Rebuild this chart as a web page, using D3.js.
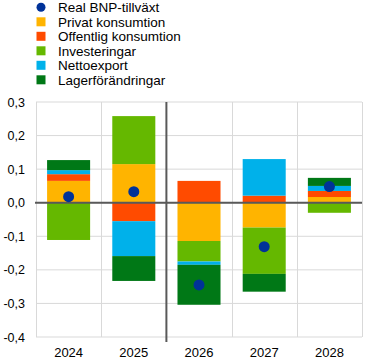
<!DOCTYPE html>
<html>
<head>
<meta charset="utf-8">
<script src="https://cdn.jsdelivr.net/npm/d3@7"></script>
<style>
  body { margin: 0; background: #fff; }
  svg { display: block; font-family: Arial, "Liberation Sans", sans-serif; }
</style>
</head>
<body>
<script>
// Chart data
var years = ["2024", "2025", "2026", "2027", "2028"];
var seriesNames = ["Privat konsumtion", "Offentlig konsumtion", "Investeringar", "Nettoexport", "Lagerförändringar"];
var seriesColors = ["#FFB400", "#FF4B00", "#65B800", "#00B1EA", "#007816"];
var privat = [0.065, 0.115, -0.114, -0.074, 0.017];
var offentlig = [0.020, -0.055, 0.065, 0.021, 0.018];
var investeringar = [-0.111, 0.143, -0.061, -0.138, -0.030];
var nettoexport = [0.012, -0.104, -0.010, 0.109, 0.015];
var lager = [0.030, -0.074, -0.119, -0.053, 0.024];
var bnp = [0.018, 0.033, -0.245, -0.131, 0.048];
var dotName = "Real BNP-tillväxt";
var dotColor = "#003299";
var yTicks = [0.3, 0.2, 0.1, 0.0, -0.1, -0.2, -0.3, -0.4];

var svgWidth = 373;
var svgHeight = 364;

var margin = { top: 102, right: 11, bottom: 27, left: 36 };
var chartWidth = svgWidth - margin.left - margin.right;
var chartHeight = svgHeight - margin.top - margin.bottom;

var svg = d3.select("body")
  .append("svg")
  .attr("width", svgWidth)
  .attr("height", svgHeight);

var chartGroup = svg.append("g")
  .attr("transform", `translate(${margin.left}, ${margin.top})`);

// build rows for d3.stack
var keys = ["p", "o", "i", "n", "l"];
var rows = years.map(function (y, i) {
  return { year: y, p: privat[i], o: offentlig[i], i: investeringar[i], n: nettoexport[i], l: lager[i], bnp: bnp[i] };
});

var xScale = d3.scaleBand()
  .domain(years)
  .range([0, chartWidth])
  .paddingInner(0)
  .paddingOuter(0);

var yScale = d3.scaleLinear()
  .domain([-0.4, 0.3])
  .range([chartHeight, 0]);

// horizontal grid lines
chartGroup.selectAll(".hgrid")
  .data(yTicks)
  .enter()
  .append("line")
  .attr("class", "hgrid")
  .attr("x1", 0)
  .attr("x2", chartWidth)
  .attr("y1", d => yScale(d))
  .attr("y2", d => yScale(d))
  .attr("stroke", "#d9d9d9")
  .attr("stroke-width", 1);

// vertical grid lines at category edges
var edges = years.map(d => xScale(d)).concat([chartWidth]);
chartGroup.selectAll(".vgrid")
  .data(edges)
  .enter()
  .append("line")
  .attr("class", "vgrid")
  .attr("x1", d => Math.round(d) + 0.5)
  .attr("x2", d => Math.round(d) + 0.5)
  .attr("y1", 0)
  .attr("y2", chartHeight)
  .attr("stroke", "#d9d9d9")
  .attr("stroke-width", 1);

// y axis labels
var leftAxis = d3.axisLeft(yScale)
  .tickValues(yTicks)
  .tickSize(0)
  .tickPadding(11)
  .tickFormat(d => d3.format(".1f")(d).replace(".", ",").replace("−", "-"));

var yAxisG = chartGroup.append("g").call(leftAxis);
yAxisG.select(".domain").remove();
yAxisG.selectAll("text")
  .attr("font-size", 12.5)
  .attr("font-family", "Arial, 'Liberation Sans', sans-serif")
  .attr("fill", "#000");

// x axis labels
var bottomAxis = d3.axisBottom(xScale).tickSize(0).tickPadding(11);
var xAxisG = chartGroup.append("g")
  .attr("transform", `translate(0, ${chartHeight})`)
  .call(bottomAxis);
xAxisG.select(".domain").remove();
xAxisG.selectAll("text")
  .attr("font-size", 13)
  .attr("font-family", "Arial, 'Liberation Sans', sans-serif")
  .attr("fill", "#000");

// stacked bars
var stack = d3.stack().keys(keys).offset(d3.stackOffsetDiverging);
var stacked = stack(rows);
var barWidth = xScale.bandwidth() * 0.66;

chartGroup.selectAll(".series")
  .data(stacked)
  .enter()
  .append("g")
  .attr("class", "series")
  .attr("fill", (d, i) => seriesColors[i])
  .selectAll("rect")
  .data(d => d)
  .enter()
  .append("rect")
  .attr("x", d => xScale(d.data.year) + (xScale.bandwidth() - barWidth) / 2)
  .attr("y", d => yScale(Math.max(d[0], d[1])))
  .attr("width", barWidth)
  .attr("height", d => Math.abs(yScale(d[0]) - yScale(d[1])));

// zero line
chartGroup.append("line")
  .attr("x1", -1)
  .attr("x2", chartWidth)
  .attr("y1", yScale(0))
  .attr("y2", yScale(0))
  .attr("stroke", "#595959")
  .attr("stroke-width", 2);

// divider between 2025 and 2026
chartGroup.append("line")
  .attr("x1", xScale("2026"))
  .attr("x2", xScale("2026"))
  .attr("y1", 0)
  .attr("y2", chartHeight + 5)
  .attr("stroke", "#595959")
  .attr("stroke-width", 2);

// GDP dots
chartGroup.selectAll(".dot")
  .data(rows)
  .enter()
  .append("circle")
  .attr("class", "dot")
  .attr("cx", d => xScale(d.year) + xScale.bandwidth() / 2)
  .attr("cy", d => yScale(d.bnp))
  .attr("r", 5.5)
  .attr("fill", dotColor);

// legend
var legendItems = [{ name: dotName, color: dotColor, dot: true }].concat(
  seriesNames.map((n, i) => ({ name: n, color: seriesColors[i], dot: false })));

var legend = svg.append("g")
  .attr("transform", "translate(36, 0)");

var item = legend.selectAll(".item")
  .data(legendItems)
  .enter()
  .append("g")
  .attr("class", "item")
  .attr("transform", (d, i) => `translate(0, ${12.3 + i * 14.5})`);

item.filter(d => d.dot)
  .append("circle")
  .attr("cx", 5)
  .attr("cy", -5)
  .attr("r", 4.5)
  .attr("fill", d => d.color);

item.filter(d => !d.dot)
  .append("rect")
  .attr("x", 0.5)
  .attr("y", -9.5)
  .attr("width", 9)
  .attr("height", 9)
  .attr("fill", d => d.color);

item.append("text")
  .attr("x", 22)
  .attr("y", 0)
  .attr("font-size", 13.5)
  .attr("fill", "#000")
  .text(d => d.name);
</script>
</body>
</html>
